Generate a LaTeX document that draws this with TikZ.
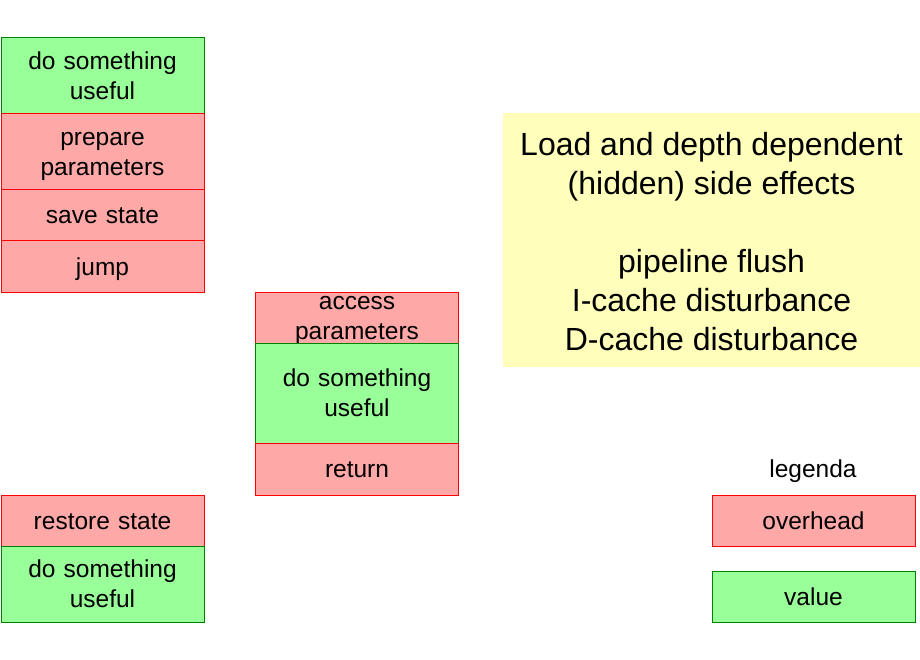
\documentclass[tikz,border=0pt]{standalone}
\usepackage{fontspec}
\setmainfont{Liberation Sans}
\definecolor{ovfill}{RGB}{255,168,168}
\definecolor{vafill}{RGB}{153,255,153}
\definecolor{yefill}{RGB}{255,255,187}
\definecolor{vaborder}{RGB}{0,128,0}
\newcommand\mytopstrut{\rule{0pt}{22.5pt}}
\newcommand\mybotstrut{\rule[-5.5pt]{0pt}{5.5pt}}
\tikzset{
  blk/.style={draw, line width=1pt, minimum width=203pt, inner sep=0pt, align=center,
    font=\fontsize{24.5}{30}\selectfont, text width=200pt,
    execute at begin node=\mytopstrut, execute at end node=\mybotstrut},
  tight/.style={execute at begin node={}, execute at end node={}, text height=16pt, text depth=33pt},
  ov/.style={blk, fill=ovfill, draw=red},
  va/.style={blk, fill=vafill, draw=vaborder},
  big/.style={font=\fontsize{32}{39}\selectfont, align=center, inner sep=0pt},
  lbl/.style={font=\fontsize{24.5}{30}\selectfont, inner sep=0pt}
}
\begin{document}
\begin{tikzpicture}[x=1pt,y=-1pt]
\useasboundingbox (0,0) rectangle (920,660);
\fill[white] (0,0) rectangle (920,660);
% left column
\node[va, minimum height=76pt] (a1) at (102.5,76) {do something\\useful};
\node[ov, minimum height=76pt] (a2) at (102.5,152) {prepare\\parameters};
\node[ov, minimum height=51pt] (a3) at (102.5,215.5) {save state};
\node[ov, minimum height=51pt] (a4) at (102.5,266.5) {jump};
% middle
\node[ov, tight, minimum height=51pt] (b1) at (357,317.5) {access\\parameters};
\node[va, minimum height=100pt] (b2) at (357,393) {do something\\useful};
\node[ov, minimum height=52pt] (b3) at (357,469) {return};
% bottom left
\node[ov, minimum height=51pt] (c1) at (102.5,520.5) {restore state};
\node[va, minimum height=76pt] (c2) at (102.5,584) {do something\\useful};
% yellow
\fill[yefill] (503,113) rectangle (920,367);
\node[big] (y) at (711.5,242) {Load and depth dependent\\(hidden) side effects\\[39pt]pipeline flush\\I-cache disturbance\\D-cache disturbance};
% legend
\node[lbl] (lg) at (813,471) {legenda};
\node[ov, minimum height=51pt] (l1) at (813.5,520.5) {overhead};
\node[va, minimum height=51pt] (l2) at (813.5,596.5) {value};
\end{tikzpicture}
\end{document}
